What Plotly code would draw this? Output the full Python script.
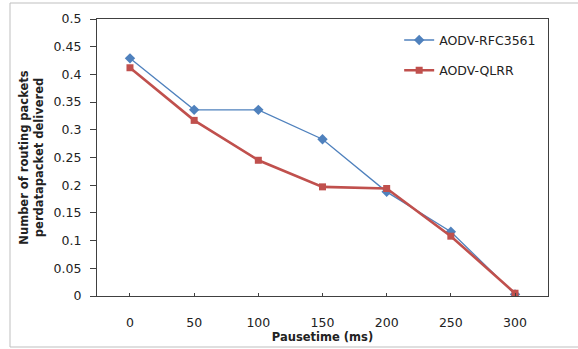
import plotly.graph_objects as go

pause_time = [0, 50, 100, 150, 200, 250, 300]
aodv_rfc3561 = [0.429, 0.336, 0.336, 0.283, 0.188, 0.116, 0.003]
aodv_qlrr = [0.412, 0.317, 0.245, 0.197, 0.194, 0.108, 0.005]
y_ticks = [0, 0.05, 0.1, 0.15, 0.2, 0.25, 0.3, 0.35, 0.4, 0.45, 0.5]
y_tick_text = ["0", "0.05", "0.1", "0.15", "0.2", "0.25", "0.3", "0.35", "0.4", "0.45", "0.5"]

FONT = "DejaVu Sans"
W, H = 578, 349
L, R, T, B = 97, 30, 19, 53
pw, ph = W - L - R, H - T - B

fig = go.Figure()
fig.add_trace(go.Scatter(
    x=pause_time, y=aodv_rfc3561, name="AODV-RFC3561", mode="lines+markers",
    line=dict(color="#4F81BD", width=1.3),
    marker=dict(symbol="diamond", size=8, color="#4F81BD"),
    legendgroup="a",
))
fig.add_trace(go.Scatter(
    x=pause_time, y=aodv_qlrr, name="AODV-QLRR", mode="lines+markers",
    line=dict(color="#C0504D", width=2.6),
    marker=dict(symbol="square", size=7, color="#C0504D"),
    legendgroup="b",
))

def px_x(x):
    return (x - L) / pw

def px_y(y):
    return (H - B - y) / ph

fig.add_shape(type="rect", xref="paper", yref="paper",
              x0=px_x(10), x1=px_x(590), y0=px_y(347), y1=px_y(3),
              line=dict(color="#BFBFBF", width=1), layer="below")

fig.update_layout(
    width=W, height=H,
    margin=dict(l=L, r=R, t=T, b=B, autoexpand=False),
    paper_bgcolor="white", plot_bgcolor="white",
    font=dict(family=FONT, size=12.5, color="#222222"),
    showlegend=True,
    legend=dict(x=0.67, y=0.977, xanchor="left", yanchor="top",
                bgcolor="rgba(0,0,0,0)", font=dict(size=12.5, family=FONT),
                traceorder="grouped", tracegroupgap=11, itemwidth=30),
    xaxis=dict(
        range=[-25.7, 325.7], tickvals=pause_time,
        ticktext=[str(v) for v in pause_time],
        showgrid=False, zeroline=False, automargin=False,
        showline=True, linecolor="#404040", linewidth=1.3, mirror=True,
        ticks="inside", ticklen=3, tickcolor="#404040",
        tickfont=dict(family=FONT, size=12.5),
        ticklabelstandoff=15,
        title=dict(text="<b>Pausetime (ms)</b>", font=dict(family=FONT, size=11.5), standoff=3),
    ),
    yaxis=dict(
        range=[0, 0.5], tickvals=y_ticks, ticktext=y_tick_text,
        showgrid=False, zeroline=False, automargin=False,
        showline=True, linecolor="#404040", linewidth=1.3, mirror=True,
        ticks="outside", ticklen=6, tickcolor="#404040",
        tickfont=dict(family=FONT, size=12.5),
        ticklabelstandoff=6,
        title=dict(text="<b>Number of routing packets<br>perdatapacket delivered</b>",
                   font=dict(family=FONT, size=11.5), standoff=7),
    ),
)

fig.write_html("out.html")
